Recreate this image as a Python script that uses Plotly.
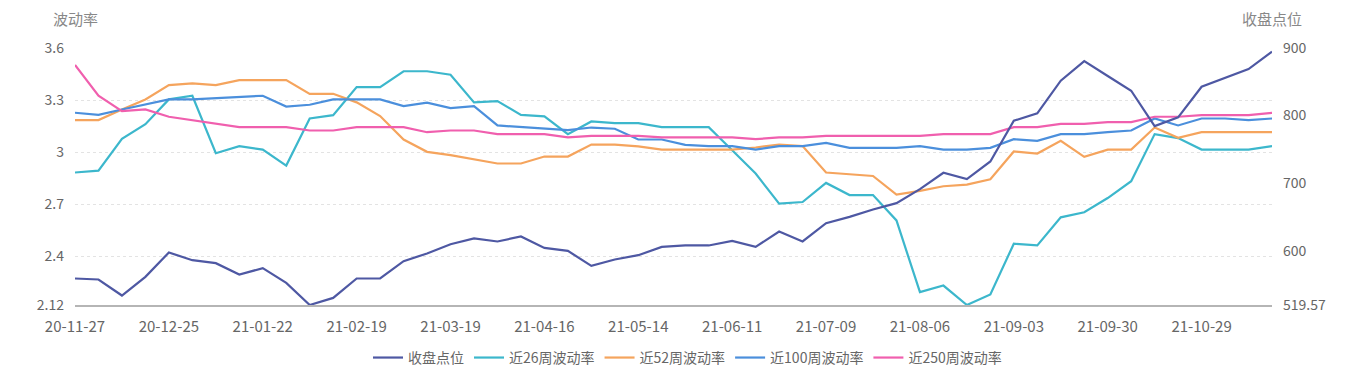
import plotly.graph_objects as go

dates = [
    "20-11-27", "20-12-04", "20-12-11", "20-12-18", "20-12-25", "20-12-31", "21-01-08", "21-01-15",
    "21-01-22", "21-01-29", "21-02-05", "21-02-10", "21-02-19", "21-02-26", "21-03-05", "21-03-12",
    "21-03-19", "21-03-26", "21-04-02", "21-04-09", "21-04-16", "21-04-23", "21-04-30", "21-05-07",
    "21-05-14", "21-05-21", "21-05-28", "21-06-04", "21-06-11", "21-06-18", "21-06-25", "21-07-02",
    "21-07-09", "21-07-16", "21-07-23", "21-07-30", "21-08-06", "21-08-13", "21-08-20", "21-08-27",
    "21-09-03", "21-09-10", "21-09-17", "21-09-24", "21-09-30", "21-10-08", "21-10-15", "21-10-22",
    "21-10-29", "21-11-05", "21-11-12", "21-11-19",
]

close_idx = [
    558.8, 557.3, 533.6, 561.2, 597.3, 585.9, 581.5, 564.7, 574.1, 552.3, 519.57, 530.1, 558.8,
    558.8, 584.4, 595.9, 609.6, 618.1, 613.6, 621.0, 604.1, 599.7, 577.5, 586.9, 593.3, 605.6,
    607.7, 607.7, 614.5, 605.6, 628.4, 613.6, 640.7, 650.1, 661.0, 670.4, 691.1, 715.3, 705.9,
    732.1, 792.3, 803.3, 851.6, 880.7, 858.5, 836.7, 784.4, 797.3, 842.7, 856.0, 868.8, 894.5,
]

vol26 = [
    2.883, 2.894, 3.077, 3.161, 3.304, 3.325, 2.994, 3.035, 3.015, 2.923, 3.194, 3.213, 3.375,
    3.375, 3.466, 3.466, 3.446, 3.287, 3.294, 3.215, 3.206, 3.104, 3.177, 3.167, 3.167, 3.144,
    3.144, 3.144, 3.011, 2.877, 2.704, 2.713, 2.823, 2.753, 2.753, 2.607, 2.194, 2.232, 2.12,
    2.181, 2.473, 2.463, 2.625, 2.654, 2.736, 2.833, 3.104, 3.081, 3.015, 3.015, 3.015, 3.035,
]

vol52 = [
    3.185, 3.185, 3.246, 3.304, 3.386, 3.396, 3.386, 3.415, 3.415, 3.415, 3.336, 3.336, 3.287,
    3.208, 3.073, 3.002, 2.983, 2.958, 2.935, 2.935, 2.975, 2.975, 3.044, 3.044, 3.033, 3.015,
    3.015, 3.015, 3.015, 3.027, 3.044, 3.035, 2.883, 2.873, 2.863, 2.756, 2.777, 2.804, 2.813,
    2.844, 3.004, 2.992, 3.065, 2.973, 3.015, 3.015, 3.142, 3.083, 3.115, 3.115, 3.115, 3.115,
]

vol100 = [
    3.227, 3.215, 3.246, 3.277, 3.304, 3.304, 3.311, 3.317, 3.325, 3.263, 3.273, 3.304, 3.304,
    3.304, 3.265, 3.285, 3.254, 3.265, 3.154, 3.144, 3.135, 3.127, 3.142, 3.135, 3.073, 3.073,
    3.042, 3.035, 3.035, 3.015, 3.035, 3.035, 3.054, 3.025, 3.025, 3.025, 3.035, 3.015, 3.015,
    3.025, 3.075, 3.065, 3.104, 3.104, 3.115, 3.125, 3.194, 3.154, 3.194, 3.194, 3.185, 3.194,
]

vol250 = [
    3.502, 3.325, 3.236, 3.246, 3.204, 3.185, 3.165, 3.144, 3.144, 3.144, 3.125, 3.125, 3.144,
    3.144, 3.144, 3.115, 3.125, 3.125, 3.104, 3.104, 3.104, 3.085, 3.094, 3.094, 3.094, 3.085,
    3.085, 3.085, 3.085, 3.075, 3.085, 3.085, 3.094, 3.094, 3.094, 3.094, 3.094, 3.104, 3.104,
    3.104, 3.144, 3.144, 3.163, 3.163, 3.173, 3.173, 3.204, 3.204, 3.213, 3.213, 3.213, 3.227,
]

left_ticks = [2.12, 2.4, 2.7, 3, 3.3, 3.6]
left_ticktext = ["2.12", "2.4", "2.7", "3", "3.3", "3.6"]
right_ticks = [519.57, 600, 700, 800, 900]
right_ticktext = ["519.57", "600", "700", "800", "900"]
x_ticks = dates[::4]

series = [
    ("收盘点位", close_idx, "#4e58a3", "y2"),
    ("近26周波动率", vol26, "#3cb7cc", "y"),
    ("近52周波动率", vol52, "#f5a45d", "y"),
    ("近100周波动率", vol100, "#4b8fdc", "y"),
    ("近250周波动率", vol250, "#f05fae", "y"),
]

FONT = "Noto Sans CJK SC, Noto Sans, sans-serif"

fig = go.Figure()
for name, vals, color, yax in series:
    fig.add_trace(go.Scatter(
        x=dates, y=vals, name=name, mode="lines", yaxis=yax,
        line=dict(color=color, width=2.2),
    ))

# page body has an 8px margin, so the figure is sized/offset accordingly
fig.update_layout(
    width=1359, height=367,
    margin=dict(l=67, r=95, t=40, b=70, autoexpand=False),
    paper_bgcolor="white", plot_bgcolor="white",
    font=dict(family=FONT, size=14, color="#666666"),
    showlegend=True,
    legend=dict(
        orientation="h", x=0.5, xanchor="center", xref="container",
        y=-0.206, yanchor="middle", yref="paper",
        font=dict(size=14, color="#666666"), itemwidth=30,
        traceorder="normal", bgcolor="rgba(0,0,0,0)",
    ),
    xaxis=dict(
        type="category", range=[0, len(dates) - 1],
        tickmode="array", tickvals=x_ticks, ticktext=x_ticks,
        showgrid=False, zeroline=False,
        showline=True, linecolor="#b5b5b5", linewidth=2,
        ticks="", ticklabelstandoff=7, automargin=False,
        tickfont=dict(size=15, color="#666666"),
    ),
    yaxis=dict(
        range=[2.12, 3.6], tickmode="array", tickvals=left_ticks, ticktext=left_ticktext,
        showgrid=True, gridcolor="#e3e3e3", griddash="dot", gridwidth=1,
        zeroline=False, showline=False, ticks="", ticklabelstandoff=10, automargin=False,
        tickfont=dict(size=14, color="#666666"),
    ),
    yaxis2=dict(
        range=[519.57, 900], overlaying="y", side="right",
        tickmode="array", tickvals=right_ticks, ticktext=right_ticktext,
        showgrid=False, zeroline=False, showline=False, ticks="", ticklabelstandoff=10,
        automargin=False,
        tickfont=dict(size=14, color="#666666"),
    ),
    annotations=[
        dict(text="波动率", xref="paper", yref="paper", x=0, y=1, yshift=30,
             xanchor="center", yanchor="middle", showarrow=False,
             font=dict(size=15, color="#888888")),
        dict(text="收盘点位", xref="paper", yref="paper", x=1, y=1, yshift=30,
             xanchor="center", yanchor="middle", showarrow=False,
             font=dict(size=15, color="#888888")),
    ],
)

fig.write_html("out.html")
